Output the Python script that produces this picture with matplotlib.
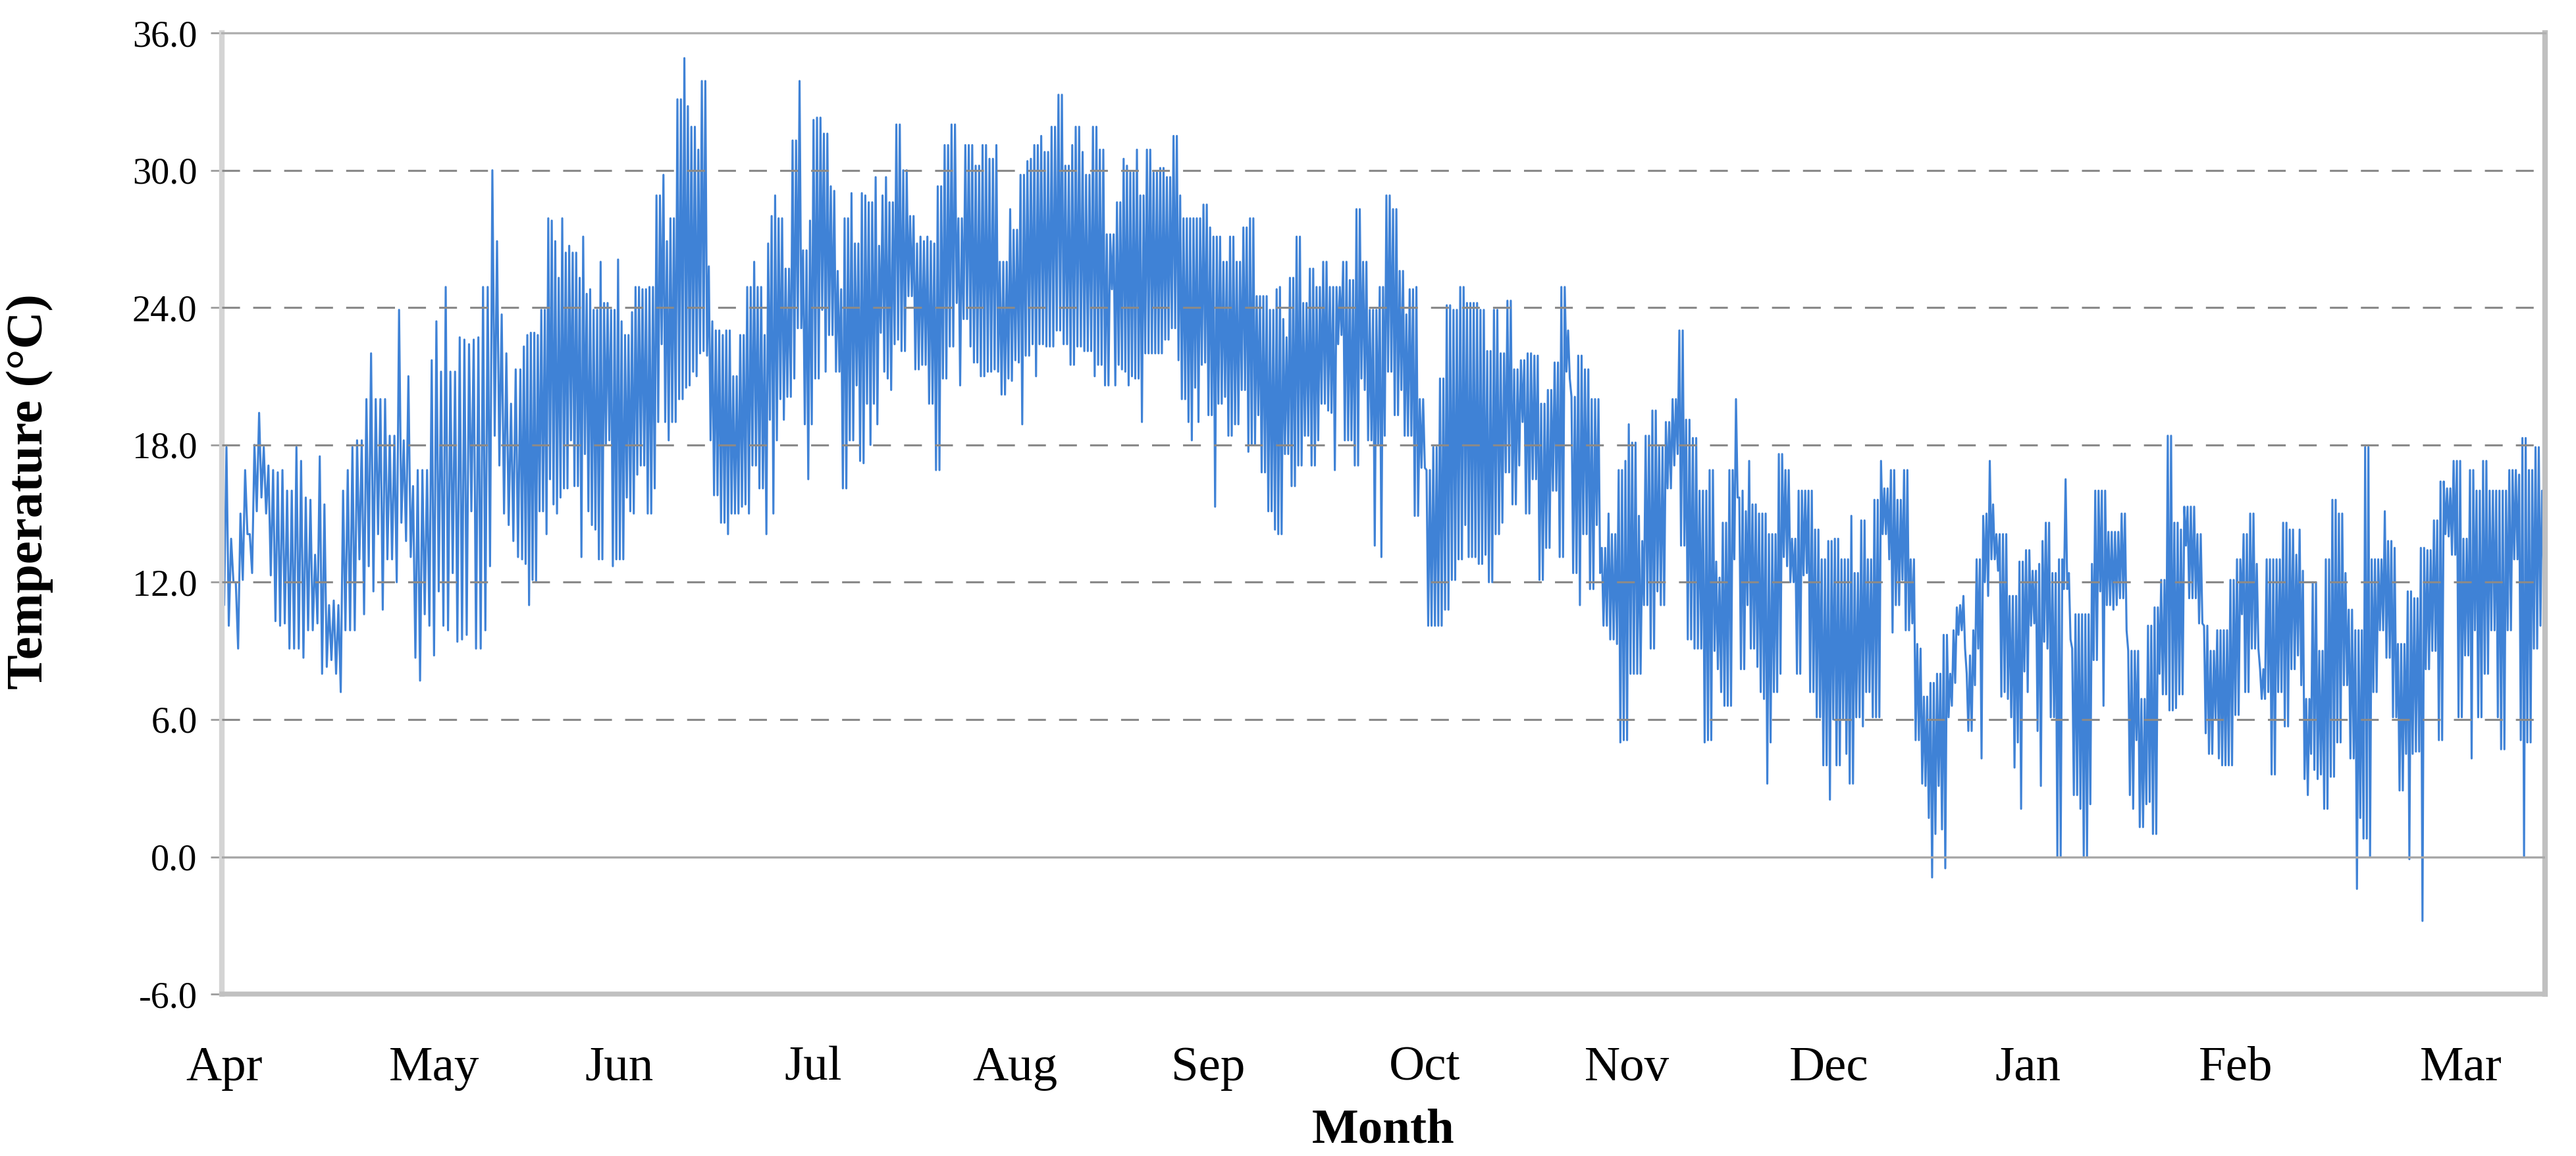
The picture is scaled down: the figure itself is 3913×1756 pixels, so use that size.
import numpy as np
import matplotlib
matplotlib.use('Agg')
from matplotlib import pyplot as plt

plt.rcParams['font.family'] = ['Liberation Serif', 'DejaVu Serif']
plt.rcParams['axes.unicode_minus'] = False
plt.rcParams['lines.scale_dashes'] = False

# stretches of the year (days after 1 April) that the readings below cover
seg_days = [0, 46.9, 93.5, 140.1, 186.6, 233.2, 279.8, 326.4, 365.0]

# daily highs / lows (deg C), one list per stretch
hi1 = [21.0, 17.9, 13.9, 12.0, 15.0, 16.9, 14.1, 18.0, 19.4, 17.9,
       17.1, 16.9, 16.8, 16.9, 16.0, 16.0, 17.9, 17.3, 15.7, 15.6,
       13.2, 17.5, 15.4, 11.0, 11.2, 11.0, 16.0, 16.9, 17.9, 18.2,
       18.2, 20.0, 22.0, 20.0, 20.0, 20.0, 18.4, 18.4, 23.9, 18.2,
       21.0, 16.2, 16.9, 16.9, 16.9, 21.7, 23.4, 21.2, 24.9, 21.2,
       21.2, 22.7, 22.6, 22.4, 22.6, 22.7, 24.9, 24.9, 30.0, 26.9,
       23.7, 22.0, 19.8, 21.3]
lo1 = [11.0, 10.1, 12.0, 9.1, 12.1, 14.1, 12.4, 15.1, 15.7, 15.0,
       12.3, 10.3, 10.1, 10.2, 9.1, 9.1, 9.1, 8.7, 9.9, 9.9,
       10.2, 8.0, 8.3, 8.6, 8.0, 7.2, 9.9, 9.9, 9.9, 13.0,
       10.6, 12.7, 11.6, 14.1, 10.8, 13.0, 13.0, 12.0, 14.6, 13.8,
       13.1, 8.7, 7.7, 10.6, 10.1, 8.8, 11.6, 10.1, 9.9, 12.4,
       9.4, 9.5, 9.7, 15.1, 9.1, 9.1, 9.9, 12.7, 18.4, 17.1,
       15.0, 14.5, 13.8, 13.1]

hi2 = [21.3, 22.3, 22.8, 22.9, 22.9, 22.8, 23.9, 23.9, 27.9, 27.8,
       26.9, 25.3, 27.9, 26.4, 26.7, 26.4, 26.4, 25.3, 27.1, 24.6,
       24.8, 23.9, 23.9, 26.0, 24.2, 24.2, 23.9, 23.9, 26.1, 23.4,
       22.8, 22.8, 23.8, 24.9, 24.9, 24.8, 24.8, 24.9, 24.9, 28.9,
       28.9, 29.8, 26.9, 27.9, 27.9, 33.1, 33.1, 34.9, 32.8, 31.9,
       31.9, 30.9, 33.9, 33.9, 25.8, 23.4, 23.0, 23.0, 22.8, 23.0,
       23.0, 21.0, 21.0, 22.8, 22.8, 24.9, 24.9, 26.0, 24.9, 24.9,
       22.8, 26.8, 28.0, 28.9, 27.9, 27.9, 25.7, 25.7, 31.3, 31.3,
       33.9, 26.5, 26.5, 27.8, 32.2]
lo2 = [13.0, 12.8, 11.0, 12.1, 12.0, 15.1, 15.1, 14.1, 16.5, 15.4,
       15.0, 15.7, 16.1, 16.1, 18.2, 16.2, 16.2, 13.1, 17.6, 15.1,
       14.5, 14.3, 13.0, 13.0, 18.0, 18.2, 12.7, 13.0, 13.0, 13.0,
       15.7, 15.1, 15.0, 16.7, 17.1, 17.1, 15.0, 15.0, 16.1, 19.0,
       22.4, 19.0, 18.2, 19.0, 19.0, 20.0, 20.0, 20.5, 20.6, 21.2,
       21.0, 22.0, 22.1, 21.9, 18.2, 15.8, 15.8, 14.6, 14.6, 14.1,
       15.0, 15.0, 15.0, 15.3, 15.4, 15.0, 17.1, 17.1, 16.1, 16.1,
       14.1, 19.1, 15.0, 18.2, 20.0, 19.1, 20.1, 20.1, 20.9, 23.1,
       23.1, 18.9, 16.5, 18.9, 20.9]

hi3 = [32.3, 32.3, 31.6, 31.6, 29.3, 29.1, 25.6, 24.8, 27.9, 27.9,
       29.0, 26.8, 26.8, 29.0, 28.9, 28.6, 28.6, 29.7, 26.7, 28.9,
       29.7, 28.6, 28.6, 32.0, 32.0, 30.0, 30.0, 28.0, 28.0, 26.8,
       27.1, 26.9, 27.1, 26.9, 26.8, 29.3, 29.3, 31.1, 31.1, 32.0,
       32.0, 27.9, 27.9, 31.1, 31.1, 31.1, 30.2, 30.2, 31.1, 31.1,
       30.5, 30.5, 31.1, 26.0, 26.0, 26.0, 28.3, 27.4, 27.4, 29.8,
       29.8, 30.4, 30.5, 31.1, 31.1, 31.5, 30.8, 30.8, 31.9, 31.9,
       33.3, 33.3, 30.2, 30.2, 31.1, 31.9, 31.9, 30.8, 29.8, 29.8,
       31.9, 31.9, 30.9, 30.9, 27.2, 27.2]
lo3 = [20.9, 23.9, 21.2, 22.8, 22.8, 21.2, 21.2, 16.1, 16.1, 18.2,
       18.2, 20.6, 17.3, 17.2, 19.8, 18.0, 19.8, 18.9, 22.9, 21.2,
       20.9, 20.4, 22.4, 22.6, 22.1, 22.1, 24.5, 24.5, 21.3, 21.3,
       21.5, 21.5, 19.8, 19.8, 16.9, 16.9, 20.9, 20.9, 22.3, 22.3,
       24.2, 20.6, 23.5, 23.5, 22.3, 21.6, 21.6, 21.0, 21.0, 21.2,
       21.2, 21.3, 21.2, 20.2, 20.2, 20.9, 20.8, 21.7, 21.6, 18.9,
       21.9, 21.9, 22.4, 21.0, 22.4, 22.4, 22.3, 22.3, 22.3, 23.0,
       23.0, 22.4, 22.4, 21.5, 21.5, 22.3, 22.3, 22.1, 22.1, 22.1,
       21.0, 21.5, 21.5, 20.6, 20.6, 24.8]

hi4 = [27.2, 28.6, 28.6, 30.5, 30.2, 29.9, 29.9, 30.9, 28.9, 28.9,
       30.9, 30.9, 29.9, 29.9, 30.1, 30.1, 29.7, 29.7, 31.5, 31.5,
       28.9, 27.9, 27.9, 27.9, 27.9, 27.9, 27.9, 28.5, 28.5, 27.5,
       27.1, 27.1, 27.1, 26.0, 26.0, 27.1, 27.1, 26.0, 26.0, 27.5,
       27.5, 27.9, 27.9, 24.5, 24.5, 24.5, 24.5, 23.9, 23.9, 24.8,
       24.9, 23.5, 22.7, 25.3, 25.3, 27.1, 27.1, 24.2, 24.2, 25.7,
       25.7, 24.9, 24.9, 26.0, 26.0, 24.9, 24.9, 24.9, 24.9, 26.0,
       26.0, 25.2, 25.2, 28.3, 28.3, 26.0, 26.0, 23.9, 23.9, 23.9,
       24.9, 24.9, 28.9, 28.9, 28.3, 28.3, 25.6, 25.6, 23.7]
lo4 = [20.6, 21.5, 21.3, 21.2, 20.6, 21.0, 20.9, 20.9, 19.0, 22.0,
       22.0, 22.0, 22.0, 22.0, 22.0, 22.6, 22.6, 23.1, 23.1, 21.7,
       20.0, 20.0, 19.0, 18.2, 20.5, 19.0, 21.5, 21.6, 19.3, 19.3,
       15.3, 19.8, 19.8, 20.1, 18.4, 18.4, 18.9, 18.9, 20.4, 20.4,
       17.7, 18.0, 18.0, 19.3, 16.8, 16.8, 15.1, 15.1, 14.3, 14.1,
       14.1, 17.6, 17.6, 16.2, 16.2, 17.1, 17.1, 18.4, 18.4, 17.1,
       17.1, 18.2, 19.8, 19.8, 19.5, 19.4, 16.9, 22.4, 22.8, 18.2,
       18.2, 18.2, 17.1, 17.1, 20.9, 20.4, 18.2, 18.2, 13.6, 18.0,
       13.1, 18.4, 21.2, 21.2, 19.3, 19.3, 20.4, 18.4, 18.4]

hi5 = [24.8, 24.8, 24.9, 20.0, 20.0, 16.9, 16.9, 17.9, 17.9, 20.9,
       20.9, 24.1, 24.1, 23.9, 23.9, 24.9, 24.9, 24.2, 24.2, 24.2,
       24.2, 23.9, 23.9, 22.1, 22.1, 23.9, 23.9, 22.0, 22.0, 24.3,
       24.3, 21.3, 21.3, 21.7, 21.7, 22.0, 22.0, 21.9, 21.9, 19.8,
       19.8, 20.4, 20.4, 21.6, 21.6, 24.9, 24.9, 23.0, 20.1, 20.1,
       21.9, 21.9, 21.3, 21.3, 20.0, 20.0, 20.0, 13.5, 13.5, 15.0,
       14.1, 14.1, 16.9, 16.9, 17.3, 18.9, 18.1, 18.1, 14.9, 13.8,
       18.4, 18.4, 19.5, 19.5, 17.9, 17.9, 19.0, 19.0, 20.0, 20.0,
       23.0, 23.0, 19.1, 19.1, 18.3, 18.3, 16.0, 16.0]
lo5 = [18.4, 14.9, 14.9, 17.0, 17.0, 10.1, 10.1, 10.1, 10.1, 10.1,
       10.8, 10.8, 12.1, 12.1, 13.0, 13.0, 14.5, 13.1, 13.1, 13.1,
       12.8, 12.8, 13.2, 12.0, 12.0, 14.1, 14.1, 14.6, 16.8, 16.8,
       15.4, 15.4, 17.1, 19.0, 15.0, 15.0, 16.5, 16.5, 12.1, 12.1,
       13.5, 13.5, 16.0, 16.0, 13.1, 13.1, 21.2, 20.9, 12.4, 12.4,
       11.0, 14.1, 14.1, 11.7, 11.7, 14.5, 12.4, 10.1, 10.1, 9.5,
       9.5, 9.3, 5.0, 5.1, 5.1, 8.0, 8.0, 8.0, 8.0, 11.0,
       11.0, 9.1, 9.1, 11.6, 11.0, 11.0, 16.1, 16.1, 17.1, 17.6,
       13.6, 13.6, 9.5, 9.5, 9.1, 9.1, 9.1, 5.0]

hi6 = [16.0, 16.9, 16.9, 12.9, 12.2, 14.6, 14.6, 16.9, 16.9, 20.0,
       15.7, 16.0, 15.1, 17.3, 15.4, 15.4, 15.0, 15.0, 15.0, 14.1,
       14.1, 14.1, 17.6, 17.6, 16.9, 16.9, 13.9, 13.9, 16.0, 16.0,
       16.0, 16.0, 16.0, 14.3, 14.3, 13.0, 13.0, 13.8, 13.8, 13.9,
       13.9, 13.0, 13.0, 13.0, 14.9, 12.4, 12.4, 14.7, 14.7, 13.0,
       13.0, 15.6, 15.6, 17.3, 16.1, 16.1, 16.9, 16.9, 15.6, 15.6,
       16.9, 16.9, 13.0, 13.0, 9.3, 9.1, 7.0, 7.0, 7.6, 7.6,
       8.0, 8.0, 9.7, 9.7, 8.0, 9.9, 10.9, 11.0, 11.4, 8.0,
       8.8, 9.9, 13.0, 13.0, 14.9, 15.0, 17.3, 15.4, 14.1, 14.1]
lo6 = [5.1, 5.1, 9.0, 8.2, 7.2, 6.6, 6.6, 6.6, 13.0, 15.7,
       8.2, 8.2, 11.0, 9.1, 9.1, 8.3, 7.2, 6.9, 3.2, 5.0,
       7.2, 7.2, 8.0, 13.1, 12.7, 12.0, 12.0, 8.0, 8.0, 12.3,
       12.4, 7.2, 7.2, 6.1, 6.1, 4.0, 4.0, 2.5, 6.0, 4.0,
       4.0, 6.0, 4.5, 3.2, 3.2, 6.1, 6.1, 5.7, 7.2, 7.2,
       6.1, 6.1, 6.1, 14.1, 14.1, 13.0, 9.8, 11.0, 11.0, 12.1,
       9.9, 9.9, 10.2, 5.1, 5.1, 3.2, 3.1, 1.7, -0.9, 1.0,
       3.1, 1.2, -0.5, 6.1, 6.6, 7.6, 9.7, 9.9, 9.1, 5.5,
       5.5, 7.5, 9.1, 4.3, 12.0, 11.4, 13.0, 13.0, 12.5, 7.0]

hi7 = [14.1, 14.1, 11.4, 11.4, 11.4, 12.9, 12.9, 13.4, 13.4, 12.5,
       12.5, 12.8, 13.8, 14.6, 14.6, 12.4, 12.4, 13.0, 13.0, 16.5,
       12.4, 9.1, 10.6, 10.6, 10.6, 10.6, 10.6, 12.8, 16.0, 16.0,
       16.0, 16.0, 14.2, 14.2, 14.2, 14.2, 15.0, 15.0, 9.0, 9.0,
       9.0, 9.0, 6.9, 6.9, 10.1, 10.1, 10.9, 10.9, 12.1, 12.1,
       18.4, 18.4, 14.6, 14.6, 14.3, 15.3, 15.3, 15.3, 15.3, 14.1,
       14.1, 10.1, 10.1, 9.0, 9.0, 9.9, 9.9, 9.9, 9.9, 12.1,
       12.1, 13.0, 13.0, 14.1, 14.1, 15.0, 15.0, 12.8, 8.2, 8.2,
       13.0, 13.0, 13.0, 13.0, 13.0, 14.6, 14.6, 14.3, 14.3, 13.2]
lo7 = [7.2, 6.9, 6.1, 3.9, 5.0, 2.1, 8.1, 7.2, 10.1, 10.2,
       5.5, 3.1, 9.4, 9.1, 6.1, 6.1, 0.0, 0.0, 11.7, 11.7,
       9.5, 2.7, 2.7, 2.1, 0.0, 0.0, 2.3, 8.6, 8.6, 11.6,
       6.6, 11.0, 11.0, 10.8, 11.0, 11.3, 11.3, 9.9, 2.7, 2.1,
       5.1, 1.3, 1.3, 2.3, 2.4, 1.0, 1.0, 8.0, 7.1, 7.1,
       6.4, 6.4, 6.5, 7.1, 7.1, 13.6, 11.3, 11.3, 11.3, 10.2,
       10.2, 5.4, 4.5, 4.5, 6.0, 4.3, 4.0, 4.0, 4.0, 4.0,
       6.2, 6.2, 10.6, 7.2, 7.2, 9.1, 9.1, 9.1, 6.9, 6.9,
       7.2, 3.6, 3.6, 7.2, 7.2, 5.7, 5.7, 8.2, 8.2, 8.8]

hi8 = [14.3, 12.5, 6.9, 6.9, 12.0, 12.0, 9.0, 9.0, 13.0, 13.0,
       15.6, 15.6, 15.0, 15.0, 12.4, 10.8, 10.8, 9.9, 9.9, 9.9,
       17.9, 17.9, 13.0, 13.0, 13.0, 13.0, 15.1, 13.8, 13.8, 13.5,
       9.3, 9.3, 9.3, 11.6, 11.6, 11.3, 11.3, 13.5, 13.5, 13.4,
       13.4, 14.7, 14.7, 16.4, 16.4, 16.1, 16.1, 17.3, 17.3, 17.3,
       13.9, 13.9, 16.9, 16.9, 16.0, 16.0, 17.3, 17.3, 16.0, 16.0,
       16.0, 16.0, 16.0, 16.0, 16.9, 16.9, 16.9, 16.7, 18.3, 18.3,
       16.9, 16.9, 17.9, 17.9, 16.0]
lo8 = [7.5, 3.4, 2.7, 4.5, 3.8, 3.4, 3.6, 2.1, 2.1, 3.5,
       3.5, 5.0, 5.0, 7.5, 7.5, 4.3, 4.3, -1.4, 1.7, 0.8,
       0.8, 0.0, 7.2, 7.2, 9.9, 9.9, 8.7, 8.7, 6.1, 6.1,
       2.9, 2.9, 4.5, -0.1, 4.5, 4.6, 4.6, -2.8, 8.2, 8.2,
       9.0, 9.0, 5.1, 5.1, 14.1, 14.0, 13.2, 13.2, 6.1, 6.1,
       8.8, 8.8, 4.3, 9.9, 6.1, 6.1, 8.0, 8.0, 9.9, 9.9,
       6.1, 4.7, 4.7, 9.9, 9.9, 13.0, 13.0, 5.1, 0.0, 5.0,
       5.0, 9.1, 9.1, 10.1, 12.4]

months = ['Apr', 'May', 'Jun', 'Jul', 'Aug', 'Sep', 'Oct', 'Nov', 'Dec', 'Jan', 'Feb', 'Mar']
month_pos = [0.4, 33.4, 62.4, 92.9, 124.6, 154.9, 189.0, 220.7, 252.5, 283.7, 316.4, 351.7]
yticks = [-6, 0, 6, 12, 18, 24, 30, 36]

highs = [hi1, hi2, hi3, hi4, hi5, hi6, hi7, hi8]
lows = [lo1, lo2, lo3, lo4, lo5, lo6, lo7, lo8]

# zig-zag: high then low for each reading, spread over its stretch
xs, ys = [], []
for k in range(len(highs)):
    hi = np.array(highs[k])
    lo = np.array(lows[k])
    ys.append(np.column_stack([hi, lo]).ravel())
    xs.append(np.linspace(seg_days[k], seg_days[k + 1], 2 * len(hi), endpoint=False))
x = np.concatenate(xs)
y = np.concatenate(ys)

fig = plt.figure(figsize=(3913 / 300, 1756 / 300), dpi=300)
ax = fig.add_axes([0.0861, 0.140, 0.902, 0.8315])

ax.plot(x, y, color='#3f82d6', lw=0.75, zorder=2)

for v in [6, 12, 18, 24, 30]:
    ax.axhline(v, color='#8a8a8a', lw=0.75, ls=(0, (6.5, 4.8)), zorder=3)
ax.axhline(0, color='#a8a8a8', lw=0.8, zorder=3)

ax.set_xlim(0, 365)
ax.set_ylim(-6, 36)
ax.set_yticks(yticks)
ax.set_yticklabels(['%.1f' % v for v in yticks], fontsize=13.5)
ax.set_xticks(month_pos)
ax.set_xticklabels(months, fontsize=18)
ax.tick_params(axis='x', length=0, pad=19)
ax.tick_params(axis='y', length=4, width=0.7, color='#a0a0a0', pad=5)

ax.spines['top'].set_color('#b0b0b0')
ax.spines['top'].set_linewidth(0.8)
ax.spines['bottom'].set_color('#c0c0c0')
ax.spines['bottom'].set_linewidth(1.8)
ax.spines['left'].set_color('#d4d4d4')
ax.spines['left'].set_linewidth(2.0)
ax.spines['right'].set_color('#c0c0c0')
ax.spines['right'].set_linewidth(2.0)

fig.text(0.0115, 0.575, 'Temperature (°C)', rotation=90, fontsize=19,
         fontweight='bold', ha='center', va='center')
fig.text(0.537, 0.022, 'Month', fontsize=18, fontweight='bold',
         ha='center', va='center')

fig.savefig('out.png', dpi=300)
